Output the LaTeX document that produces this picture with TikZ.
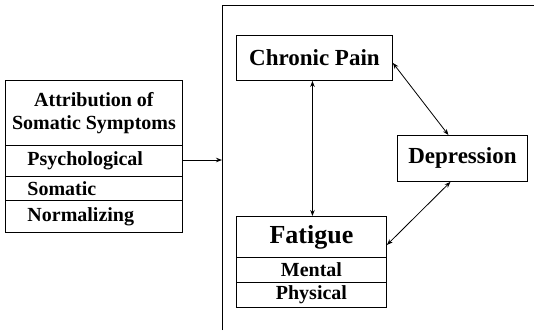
\documentclass[tikz,border=0pt]{standalone}
\usepackage{fontspec}
\setmainfont{Liberation Serif}[BoldFont={Liberation Serif Bold}]
\usetikzlibrary{arrows.meta,calc}
\begin{document}
\begin{tikzpicture}[x=1pt,y=-1pt,
  box/.style={draw,line width=0.9pt,inner sep=0pt,anchor=north west,font=\bfseries},
  rowbox/.style={box,text width=133pt,inner xsep=22pt,align=left,font=\fontsize{20}{23}\selectfont\bfseries},
  link/.style={line width=0.8pt,{Stealth[length=6pt,width=4.5pt]}-{Stealth[length=6pt,width=4.5pt]}},
  onelink/.style={line width=0.8pt,-{Stealth[length=6pt,width=4.5pt]}}]
\useasboundingbox (0,0) rectangle (534,330);
% frame
\coordinate (fb) at (222,330);
\coordinate (ft) at (222,5.5);
\coordinate (fr) at (534,5.5);
\draw[line width=1pt] (fb) -- (ft) -- (fr);
% left box
\node[box,minimum width=177pt,minimum height=65pt,align=center,font=\fontsize{20}{23}\selectfont\bfseries] (attr) at (5,80) {Attribution of\\Somatic Symptoms};
\node[rowbox,minimum height=31pt] (psy) at (5,145) {Psychological};
\node[rowbox,minimum height=24pt] (som) at (5,176) {Somatic};
\node[rowbox,minimum height=32pt] (nor) at (5,200) {Normalizing};
\coordinate (fl) at (222,160);
\draw[onelink] (psy.east |- fl) -- (fl);
% right boxes
\node[box,minimum width=156pt,minimum height=45pt,font=\fontsize{23}{26}\selectfont\bfseries] (cp) at (236,35) {Chronic Pain};
\node[box,minimum width=130pt,minimum height=46pt,font=\fontsize{23}{26}\selectfont\bfseries] (dep) at (397,135) {Depression};
\node[box,minimum width=150pt,minimum height=41pt,font=\fontsize{26}{29}\selectfont\bfseries] (fat) at (236,216) {Fatigue};
\node[box,minimum width=150pt,minimum height=25pt,font=\fontsize{20}{23}\selectfont\bfseries] (men) at (236,257) {Mental};
\node[box,minimum width=150pt,minimum height=25pt,font=\fontsize{20}{23}\selectfont\bfseries] (phy) at (236,282) {Physical};
% connectors
\draw[link] ([xshift=-2pt]cp.south) -- ([xshift=-2pt]cp.south |- fat.north);
\draw[link] ([yshift=-5pt]cp.east) -- ([xshift=-14pt]dep.north);
\draw[link] ([xshift=-12pt]dep.south) -- ([yshift=-8pt]fat.east);
\end{tikzpicture}
\end{document}
